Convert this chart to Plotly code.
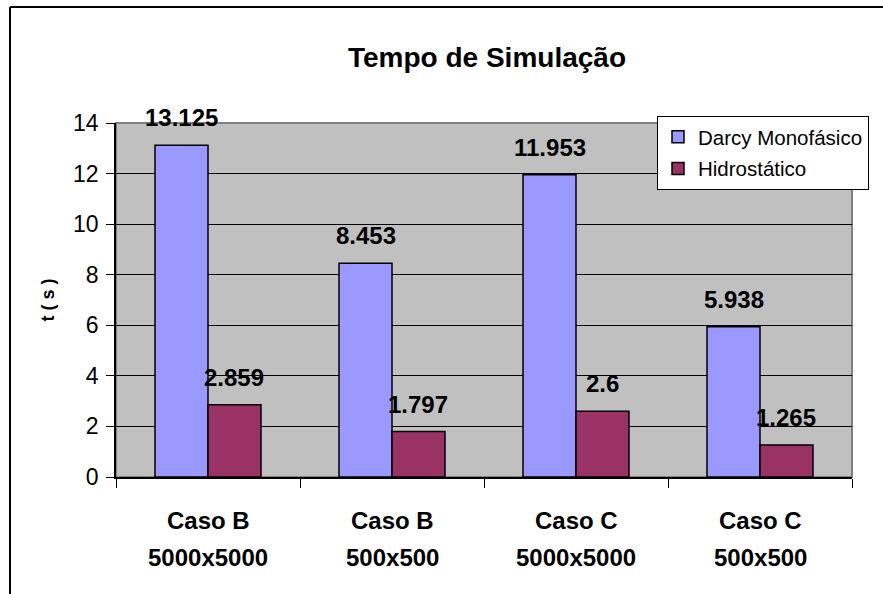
import plotly.graph_objects as go

# Simulation times (seconds) for each case and grid size
cases = ["Caso B", "Caso B", "Caso C", "Caso C"]
grids = ["5000x5000", "500x500", "5000x5000", "500x500"]
categories = [f"{c} {g}" for c, g in zip(cases, grids)]
darcy_monofasico = [13.125, 8.453, 11.953, 5.938]
hidrostatico = [2.859, 1.797, 2.6, 1.265]
series_names = ["Darcy Monofásico", "Hidrostático"]
y_ticks = [0, 2, 4, 6, 8, 10, 12, 14]

FONT = "Liberation Sans, Arial, sans-serif"
W, H = 883, 594
L, R, T, B = 116, 31, 123, 117
PW, PH = W - L - R, H - T - B
BARGAP = 0.424


def px_x(x):
    return (x - L) / PW


def px_y(y):
    return (H - B - y) / PH


fig = go.Figure()
fig.add_trace(go.Bar(
    x=categories, y=darcy_monofasico, name=series_names[0], legendgroup="a",
    marker=dict(color="#9999FF", line=dict(color="#000000", width=1.5)),
))
fig.add_trace(go.Bar(
    x=categories, y=hidrostatico, name=series_names[1], legendgroup="b",
    marker=dict(color="#993366", line=dict(color="#000000", width=1.5)),
))

bold24 = dict(family=FONT, size=24, color="#000000", weight="bold")

# value labels above each bar
bar_half = 0.5 * PW / len(categories) * (1 - BARGAP) / 2
for cat, dv, hv in zip(categories, darcy_monofasico, hidrostatico):
    for val, shift in ((dv, -bar_half), (hv, bar_half)):
        fig.add_annotation(
            x=cat, y=val, xref="x", yref="y", text=f"{val:g}", showarrow=False,
            xshift=shift, yshift=12, yanchor="bottom", font=bold24,
        )

# two-line category labels under the axis
for cat, case, grid in zip(categories, cases, grids):
    fig.add_annotation(x=cat, xref="x", y=px_y(520), yref="paper", text=case,
                       showarrow=False, yanchor="middle", font=bold24)
    fig.add_annotation(x=cat, xref="x", y=px_y(557), yref="paper", text=grid,
                       showarrow=False, yanchor="middle", font=bold24)

shapes = [
    # outer chart border (top and left edges)
    dict(type="line", xref="paper", yref="paper", x0=px_x(10), x1=px_x(W + 10),
         y0=px_y(7), y1=px_y(7), line=dict(color="#000000", width=2)),
    dict(type="line", xref="paper", yref="paper", x0=px_x(10), x1=px_x(10),
         y0=px_y(7), y1=px_y(H + 10), line=dict(color="#000000", width=2)),
    # plot-area frame
    dict(type="rect", xref="paper", yref="paper", x0=0, x1=1, y0=0, y1=1,
         line=dict(color="#808080", width=2), layer="below"),
]

fig.update_layout(
    width=W, height=H,
    margin=dict(l=L, r=R, t=T, b=B, pad=0),
    paper_bgcolor="#FFFFFF",
    plot_bgcolor="#C0C0C0",
    barmode="group", bargap=BARGAP, bargroupgap=0,
    font=dict(family=FONT, color="#000000"),
    title=dict(
        text="<b>Tempo de Simulação</b>", x=px_x(487), xref="paper", xanchor="center",
        y=1 - 57 / H, yref="container", yanchor="middle",
        font=dict(family=FONT, size=28, color="#000000"),
    ),
    legend=dict(
        x=px_x(657), y=px_y(116), xanchor="left", yanchor="top",
        bgcolor="#FFFFFF", bordercolor="#000000", borderwidth=1,
        font=dict(family=FONT, size=20.5, color="#000000"),
        traceorder="grouped", tracegroupgap=2,
    ),
    xaxis=dict(
        type="category", showgrid=False, showline=True, linecolor="#000000", linewidth=1.5,
        ticks="outside", tickson="boundaries", ticklen=9, tickcolor="#000000",
        showticklabels=False,
    ),
    yaxis=dict(
        range=[0, 14], tickvals=y_ticks, showgrid=True, gridcolor="#000000", gridwidth=1,
        showline=True, linecolor="#000000", linewidth=1.5,
        ticks="outside", ticklen=8, tickcolor="#000000",
        tickfont=dict(family=FONT, size=23, color="#000000"),
        ticklabelstandoff=3, zeroline=False,
        title=dict(text="<b>t ( s )</b>", font=dict(family=FONT, size=18, color="#000000"),
                   standoff=14),
    ),
    shapes=shapes,
    showlegend=True,
)

fig.write_html("out.html")
